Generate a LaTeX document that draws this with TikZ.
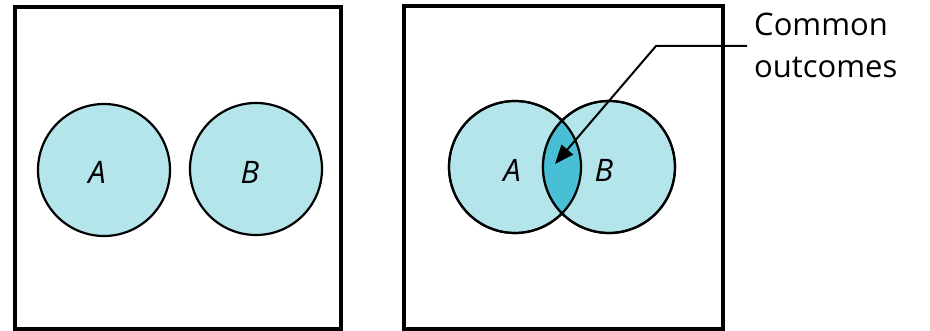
\documentclass[tikz,border=0pt]{standalone}
\usepackage{fontspec}
\setmainfont{Open Sans}
\usetikzlibrary{arrows.meta}
\definecolor{lightfill}{HTML}{B4E5EA}
\definecolor{darkfill}{HTML}{48BFD4}
\begin{document}
\begin{tikzpicture}[x=1pt,y=-1pt,
  frame/.style={draw=black,line width=3.6pt},
  setcircle/.style={circle,draw=black,line width=2.2pt,fill=lightfill,minimum size=132pt,inner sep=0pt},
  setlabel/.style={font=\fontsize{31}{36}\selectfont\itshape},
  pointer/.style={draw=black,line width=2pt,-{Triangle[length=19pt,width=15pt]}},
  caption/.style={font=\fontsize{31}{42}\selectfont,align=left,anchor=north west,inner sep=0pt}]
\useasboundingbox (0,0) rectangle (930,331);
% left panel
\draw[frame] (15,7) rectangle (341,329);
\node[setcircle] (A1) at (104,170) {};
\node[setcircle] (B1) at (256,169) {};
\node[setlabel] (LA1) at (97,172) {A};
\node[setlabel] (LB1) at (250,172) {B};
% right panel
\draw[frame] (404,6) rectangle (723,329);
\node[setcircle] (A2) at (515,167) {};
\node[setcircle] (B2) at (609,167) {};
\begin{scope}
  \clip (515,167) circle (66pt);
  \fill[darkfill] (609,167) circle (66pt);
\end{scope}
\draw[line width=2.2pt] (515,167) circle (66pt);
\draw[line width=2.2pt] (609,167) circle (66pt);
\node[setlabel] (LA2) at (512,170) {A};
\node[setlabel] (LB2) at (604,170) {B};
\node[caption] (cap) at (754,13) {Common\\outcomes};
\coordinate (c0) at (747,46);
\coordinate (c1) at (656,46);
\coordinate (tip) at (555,164);
\draw[pointer] (c0) -- (c1) -- (tip);
\end{tikzpicture}
\end{document}
